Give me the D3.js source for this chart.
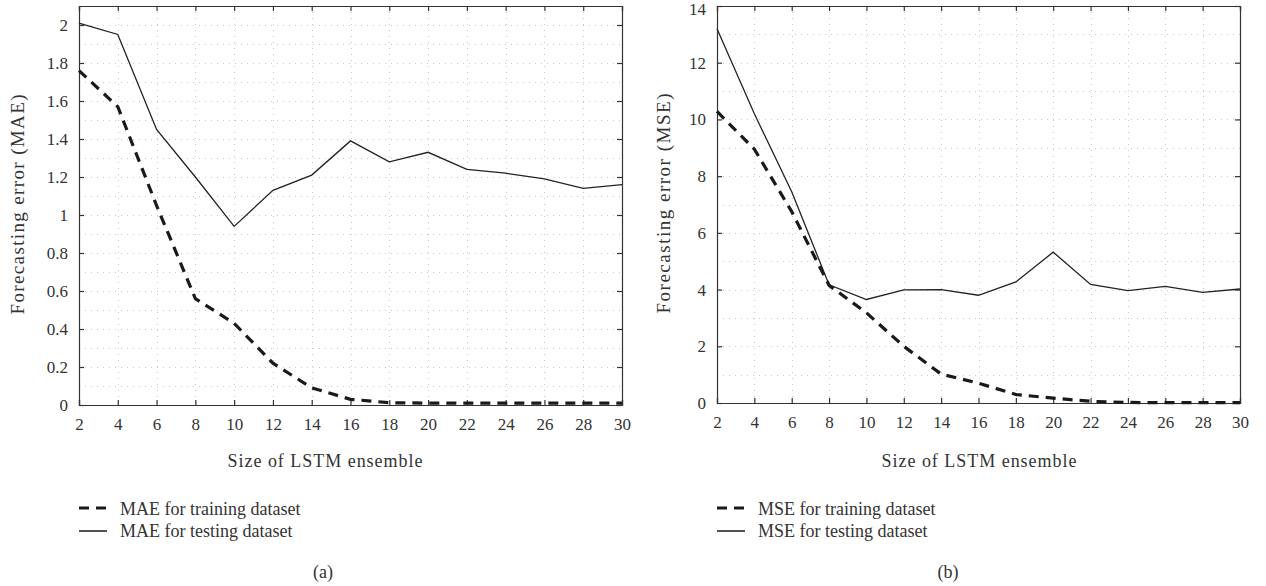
<!DOCTYPE html>
<html>
<head>
<meta charset="utf-8">
<script src="https://cdn.jsdelivr.net/npm/d3@7/dist/d3.min.js"></script>
<style>
  html, body { margin: 0; padding: 0; background: #fff; }
  svg { display: block; }
  text { font-family: "Liberation Serif", "DejaVu Serif", serif; fill: #333; }
</style>
</head>
<body>
<svg id="chart" width="1266" height="586"></svg>
<script>
// ---- Data ----
const ensembleSizes = [2, 4, 6, 8, 10, 12, 14, 16, 18, 20, 22, 24, 26, 28, 30];
const maeTraining = [1.76, 1.57, 1.05, 0.56, 0.43, 0.22, 0.09, 0.03, 0.012, 0.01, 0.01, 0.01, 0.01, 0.01, 0.01];
const maeTesting  = [2.01, 1.95, 1.45, 1.20, 0.94, 1.13, 1.21, 1.39, 1.28, 1.33, 1.24, 1.22, 1.19, 1.14, 1.16];
const mseTraining = [10.28, 8.95, 6.75, 4.15, 3.18, 2.0, 1.02, 0.70, 0.30, 0.17, 0.06, 0.02, 0.01, 0.01, 0.01];
const mseTesting  = [13.2, 10.2, 7.45, 4.17, 3.65, 3.99, 4.0, 3.80, 4.27, 5.32, 4.18, 3.96, 4.11, 3.90, 4.02];
const xTicks = [2, 4, 6, 8, 10, 12, 14, 16, 18, 20, 22, 24, 26, 28, 30];
const maeTicks = [0, 0.2, 0.4, 0.6, 0.8, 1, 1.2, 1.4, 1.6, 1.8, 2];
const mseTicks = [0, 2, 4, 6, 8, 10, 12, 14];
const xTitle = "Size of LSTM ensemble";

const svg = d3.select("#chart");

function panel(o) {
  const g = svg.append("g");
  const x = d3.scaleLinear().domain([2, 30]).range([o.left, o.right]);
  const y = d3.scaleLinear().domain(o.yDomain).range([o.bottom, o.top]);

  // grid: horizontal every half step, vertical at ticks
  const gridG = g.append("g").attr("stroke", "#c8c8c8").attr("stroke-width", 1)
    .attr("stroke-dasharray", "1,5");
  gridG.selectAll("line.h").data(o.hGrid).join("line")
    .attr("x1", o.left).attr("x2", o.right)
    .attr("y1", d => Math.round(y(d)) + 0.5).attr("y2", d => Math.round(y(d)) + 0.5);
  gridG.selectAll("line.v").data(xTicks.slice(1, -1)).join("line")
    .attr("y1", o.top).attr("y2", o.bottom)
    .attr("x1", d => Math.round(x(d)) + 0.5).attr("x2", d => Math.round(x(d)) + 0.5);

  // axes (ticks inward on all sides)
  const tickLen = 5;
  const fmt = d => d3.format("")(d);
  const bottomAx = g.append("g").attr("transform", `translate(0,${o.bottom})`)
    .call(d3.axisBottom(x).tickValues(xTicks).tickSize(-tickLen).tickPadding(tickLen + 8).tickFormat(fmt));
  const topAx = g.append("g").attr("transform", `translate(0,${o.top})`)
    .call(d3.axisTop(x).tickValues(xTicks).tickSize(-tickLen).tickFormat(""));
  const leftAx = g.append("g").attr("transform", `translate(${o.left},0)`)
    .call(d3.axisLeft(y).tickValues(o.yTicks).tickSize(-tickLen).tickPadding(tickLen + 6).tickFormat(fmt));
  const rightAx = g.append("g").attr("transform", `translate(${o.right},0)`)
    .call(d3.axisRight(y).tickValues(o.yTicks).tickSize(-tickLen).tickFormat(""));
  [bottomAx, topAx, leftAx, rightAx].forEach(a => {
    a.select(".domain").attr("stroke", "#333").attr("stroke-width", 1.2);
    a.selectAll(".tick line").attr("stroke", "#333").attr("stroke-width", 1.2);
    a.selectAll("text").attr("font-family", '"Liberation Serif", serif').attr("font-size", 17).attr("fill", "#333");
  });
  // keep the topmost y label inside the picture
  leftAx.selectAll(".tick text").filter(d => d === o.yTicks[o.yTicks.length - 1] && y(d) < 10)
    .attr("dy", "0.5em");

  const line = d3.line().x((d, i) => x(ensembleSizes[i])).y(d => y(d));
  g.append("path").datum(o.testing).attr("d", line)
    .attr("fill", "none").attr("stroke", "#222").attr("stroke-width", 1.3);
  g.append("path").datum(o.training).attr("d", line)
    .attr("fill", "none").attr("stroke", "#1a1a1a").attr("stroke-width", 3.2)
    .attr("stroke-dasharray", "10,7");

  // titles
  g.append("text").attr("x", o.xTitleX).attr("y", 467)
    .attr("text-anchor", "middle").attr("font-size", 18)
    .attr("textLength", 195).attr("lengthAdjust", "spacing").text(xTitle);
  g.append("text")
    .attr("transform", `translate(${o.yTitleX},${(o.top + o.bottom) / 2 - 1}) rotate(-90)`)
    .attr("text-anchor", "middle").attr("font-size", 19)
    .attr("textLength", 220).attr("lengthAdjust", "spacing").text(o.yTitle);

  // legend
  const lx = o.left;
  g.append("line").attr("x1", lx).attr("x2", lx + 28).attr("y1", 508).attr("y2", 508)
    .attr("stroke", "#1a1a1a").attr("stroke-width", 3.2).attr("stroke-dasharray", "10,7");
  g.append("line").attr("x1", lx).attr("x2", lx + 28).attr("y1", 531).attr("y2", 531)
    .attr("stroke", "#1a1a1a").attr("stroke-width", 1.5);
  g.append("text").attr("x", lx + 41).attr("y", 515).attr("font-size", 18).text(o.legend[0]);
  g.append("text").attr("x", lx + 41).attr("y", 537).attr("font-size", 18).text(o.legend[1]);

  g.append("text").attr("x", o.captionX).attr("y", 578).attr("text-anchor", "middle")
    .attr("font-size", 18).text(o.caption);
}

panel({
  left: 79, right: 622, top: 6, bottom: 405,
  yDomain: [0, 2.1], yTicks: maeTicks, hGrid: d3.range(1, 21).map(i => i / 10),
  training: maeTraining, testing: maeTesting,
  yTitle: "Forecasting error (MAE)", yTitleX: 24, xTitleX: 325,
  legend: ["MAE for training dataset", "MAE for testing dataset"],
  caption: "(a)", captionX: 323
});
panel({
  left: 717, right: 1240, top: 6, bottom: 403,
  yDomain: [0, 14], yTicks: mseTicks, hGrid: d3.range(1, 14),
  training: mseTraining, testing: mseTesting,
  yTitle: "Forecasting error (MSE)", yTitleX: 670, xTitleX: 979,
  legend: ["MSE for training dataset", "MSE for testing dataset"],
  caption: "(b)", captionX: 948
});
</script>
</body>
</html>
